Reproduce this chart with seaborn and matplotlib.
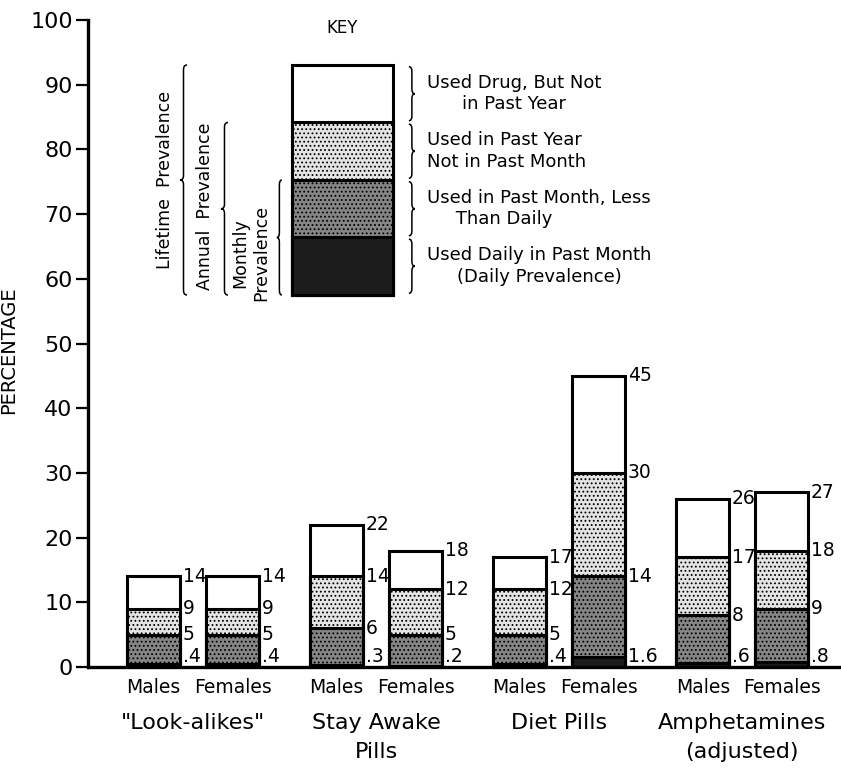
"""
Drug use prevalence by sex: stacked bars with a drawn key.
"""

import numpy as np
import pandas as pd
import matplotlib
matplotlib.use("Agg")
import matplotlib.pyplot as plt
from matplotlib.path import Path
from matplotlib.patches import PathPatch
import seaborn as sns

# ---- data -------------------------------------------------------------
groups = ['"Look-alikes"', "Stay Awake\nPills", "Diet Pills", "Amphetamines\n(adjusted)"]
sexes = ["Males", "Females"]

# order: group0 males, group0 females, group1 males, ...
lifetime = [14, 14, 22, 18, 17, 45, 26, 27]
annual = [9, 9, 14, 12, 12, 30, 17, 18]
monthly = [5, 5, 6, 5, 5, 14, 8, 9]
daily = [0.4, 0.4, 0.3, 0.2, 0.4, 1.6, 0.6, 0.8]

y_ticks = list(range(0, 101, 10))

key_levels = [4, 3, 2, 1]
key_labels = [
    "Used Drug, But Not\nin Past Year",
    "Used in Past Year\nNot in Past Month",
    "Used in Past Month, Less\n     Than Daily",
    "Used Daily in Past Month\n(Daily Prevalence)",
]
key_align = ["center", "left", "left", "center"]

df = pd.DataFrame({
    "group": np.repeat(groups, 2),
    "sex": sexes * len(groups),
    "lifetime": lifetime,
    "annual": annual,
    "monthly": monthly,
    "daily": daily,
})

layers = [
    ("lifetime", "white", None),
    ("annual", "#e4e4e4", "...."),
    ("monthly", "#858585", "...."),
    ("daily", "#1c1c1c", None),
]


def fmt(v):
    if v < 1:
        return f"{v:.1f}"[1:]
    if v % 1:
        return f"{v:.1f}"
    return f"{int(v)}"


def brace(ax, x, y0, y1, d, r=0.08, lw=1.1):
    """Curly brace from y0 to y1 at x, tip pointing by d in x."""
    mid = (y0 + y1) / 2
    h = x + d / 2
    verts = [
        (x, y0), (h, y0), (h, y0 + r),
        (h, mid - r),
        (h, mid), (x + d, mid),
        (h, mid), (h, mid + r),
        (h, y1 - r),
        (h, y1), (x, y1),
    ]
    codes = [Path.MOVETO, Path.CURVE3, Path.CURVE3,
             Path.LINETO,
             Path.CURVE3, Path.CURVE3,
             Path.CURVE3, Path.CURVE3,
             Path.LINETO,
             Path.CURVE3, Path.CURVE3]
    ax.add_patch(PathPatch(Path(verts, codes), fill=False, lw=lw,
                           color="black", clip_on=False))


sns.set_style("white")
plt.rcParams["font.family"] = ["DejaVu Sans"]
plt.rcParams["hatch.linewidth"] = 0.8
for k in ["text.color", "axes.labelcolor", "xtick.color", "ytick.color", "axes.edgecolor"]:
    plt.rcParams[k] = "black"

fig = plt.figure(figsize=(8.41, 7.68), dpi=100)
ax = fig.add_axes([0.1046, 0.1315, 0.894, 0.8424])

for col, face, hatch in layers:
    sns.barplot(
        data=df, x="group", y=col, hue="sex",
        palette=[face, face], width=0.863, gap=0.33,
        edgecolor="black", linewidth=2.2, hatch=hatch,
        legend=False, ax=ax, zorder=2,
    )
    for cont in ax.containers[-2:]:
        for bar in cont:
            v = bar.get_height()
            xr = bar.get_x() + bar.get_width()
            if col == "daily":
                ax.annotate(fmt(v), (xr, 0), xytext=(2, 1), textcoords="offset points",
                            ha="left", va="bottom", fontsize=13.5)
            else:
                ax.annotate(fmt(v), (xr, v), xytext=(2, 0), textcoords="offset points",
                            ha="left", va="center", fontsize=13.5)

# sex labels under bars
trans = matplotlib.transforms.blended_transform_factory(ax.transData, ax.transAxes)
for cont, s in zip(ax.containers[:2], sexes):
    for bar in cont:
        ax.text(bar.get_x() + bar.get_width() / 2, -0.032, s, transform=trans,
                ha="center", va="center", fontsize=13.5)

ax.set_xticks(range(len(groups)))
ax.set_xticklabels(groups, fontsize=16, linespacing=1.6, va="top")
ax.tick_params(axis="x", length=0, pad=33)
ax.set_xlim(-0.574, 3.533)
ax.set_xlabel("")

ax.set_ylim(0, 100)
ax.set_yticks(y_ticks)
ax.set_yticklabels([str(t) for t in y_ticks], fontsize=16)
ax.tick_params(axis="y", direction="out", length=9, width=1.6, pad=2, left=True)
ax.set_ylabel("PERCENTAGE", fontsize=14)
ax.yaxis.set_label_coords(-0.093, 0.49)

sns.despine(ax=ax)
ax.spines["left"].set_linewidth(2.4)
ax.spines["bottom"].set_linewidth(2.4)

# ---- key ---------------------------------------------------------------
kax = fig.add_axes([0.3472, 0.6159, 0.120, 0.2995])
kax.axis("off")
for lvl, (col, face, hatch) in zip(key_levels, layers):
    sns.barplot(x=["key"], y=[lvl], color=face, width=1.0,
                edgecolor="black", linewidth=2.2, hatch=hatch,
                ax=kax, clip_on=False, saturation=1)
kax.set_xlim(-0.5, 0.5)
kax.set_ylim(0, 4)
kax.text(0, 4.64, "KEY", ha="center", va="center", fontsize=12)

for i, (lab, al) in enumerate(zip(key_labels, key_align)):
    top = key_levels[i]
    brace(kax, 0.658, top - 1 + 0.03, top - 0.03, 0.06)
    kax.text(0.837, top - 0.5, lab, ha="left", va="center", fontsize=13,
             multialignment=al, linespacing=1.25)

brace(kax, -1.54, 0, 4, -0.07)
brace(kax, -1.134, 0, 3, -0.07)
brace(kax, -0.6, 0, 2, -0.05)
kax.text(-1.757, 2.0, "Lifetime  Prevalence", rotation=90, ha="center", va="center", fontsize=12.5)
kax.text(-1.36, 1.55, "Annual  Prevalence", rotation=90, ha="center", va="center", fontsize=12.5)
kax.text(-0.906, 0.73, "Monthly\nPrevalence", rotation=90, ha="center", va="center",
         fontsize=12.5, linespacing=1.2)

fig.savefig("out.png", dpi=100)
plt.close(fig)
